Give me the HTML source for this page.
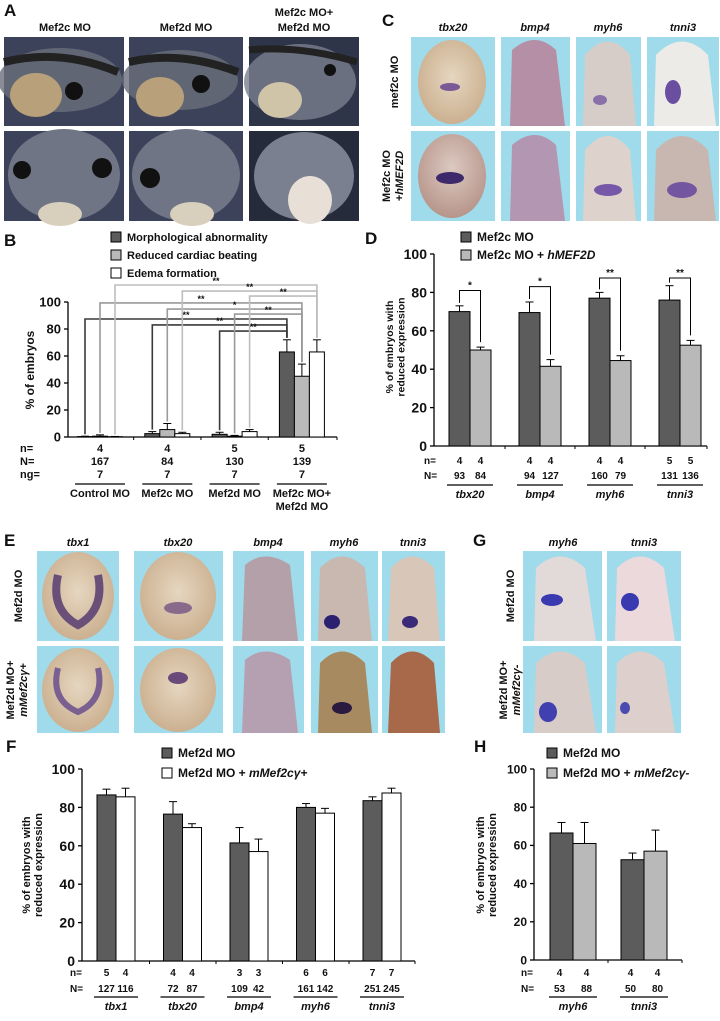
<!DOCTYPE html>
<html><head><meta charset="utf-8"><style>
html,body{margin:0;padding:0;background:#fff}
svg{display:block}
text{font-family:"Liberation Sans",Arial,sans-serif;font-weight:bold;fill:#111}
.it{font-style:italic}
</style></head><body>
<svg id="fig" width="720" height="1021" viewBox="0 0 720 1021" xmlns="http://www.w3.org/2000/svg">
<defs>
<radialGradient id="emb" cx="50%" cy="45%" r="60%"><stop offset="0" stop-color="#e6d6c0"/><stop offset="1" stop-color="#c9ad8c"/></radialGradient>
<radialGradient id="emb2" cx="50%" cy="40%" r="60%"><stop offset="0" stop-color="#dcc9c2"/><stop offset="1" stop-color="#b7958a"/></radialGradient>
</defs>

<g>
<text x="4" y="16" font-size="17">A</text>
<text x="65" y="31" font-size="11" text-anchor="middle">Mef2c MO</text>
<text x="186" y="31" font-size="11" text-anchor="middle">Mef2d MO</text>
<text x="304" y="16" font-size="11" text-anchor="middle">Mef2c MO+</text>
<text x="304" y="31" font-size="11" text-anchor="middle">Mef2d MO</text>
<g><rect x="4" y="37" width="120" height="89" fill="#3b4259"/><ellipse cx="60" cy="80" rx="62" ry="32" fill="#6b6f7c" opacity="0.8"/><ellipse cx="36" cy="95" rx="26" ry="22" fill="#b8a07a"/><path d="M4 62 Q60 48 118 72" stroke="#222" stroke-width="8" fill="none"/><circle cx="74" cy="91" r="9" fill="#111"/></g>
<g><rect x="129" y="37" width="114" height="89" fill="#3b4259"/><ellipse cx="180" cy="80" rx="58" ry="30" fill="#6b6f7c" opacity="0.8"/><ellipse cx="160" cy="97" rx="24" ry="20" fill="#b8a07a"/><path d="M129 62 Q180 50 238 72" stroke="#222" stroke-width="8" fill="none"/><circle cx="201" cy="84" r="9" fill="#111"/></g>
<g><rect x="249" y="37" width="110" height="89" fill="#2f3548"/><ellipse cx="300" cy="82" rx="56" ry="38" fill="#7b8090" opacity="0.8"/><ellipse cx="280" cy="100" rx="22" ry="18" fill="#cfc4a8"/><path d="M249 50 Q300 45 357 62" stroke="#222" stroke-width="7" fill="none"/><circle cx="330" cy="70" r="6" fill="#111"/></g>
<g><rect x="4" y="131" width="120" height="90" fill="#3b4259"/><ellipse cx="64" cy="175" rx="56" ry="46" fill="#6f7585"/><circle cx="22" cy="170" r="9" fill="#111"/><circle cx="102" cy="168" r="10" fill="#111"/><ellipse cx="60" cy="214" rx="22" ry="12" fill="#d8cfbd"/></g>
<g><rect x="129" y="131" width="114" height="90" fill="#3b4259"/><ellipse cx="186" cy="175" rx="54" ry="46" fill="#6f7585"/><circle cx="150" cy="178" r="10" fill="#111"/><ellipse cx="192" cy="214" rx="22" ry="12" fill="#d8cfbd"/></g>
<g><rect x="249" y="131" width="110" height="90" fill="#262b3b"/><ellipse cx="304" cy="176" rx="50" ry="44" fill="#7a8090"/><ellipse cx="310" cy="200" rx="22" ry="24" fill="#e8dfd6"/></g>
</g>

<g>
<text x="382" y="26" font-size="17">C</text>
<text x="453" y="31" font-size="11" class="it" text-anchor="middle">tbx20</text>
<text x="535" y="31" font-size="11" class="it" text-anchor="middle">bmp4</text>
<text x="608" y="31" font-size="11" class="it" text-anchor="middle">myh6</text>
<text x="683" y="31" font-size="11" class="it" text-anchor="middle">tnni3</text>
<text transform="translate(398,82) rotate(-90)" font-size="11" text-anchor="middle">mef2c MO</text>
<text transform="translate(390,176) rotate(-90)" font-size="11" text-anchor="middle">Mef2c MO</text>
<text transform="translate(403,176) rotate(-90)" font-size="11" text-anchor="middle" class="it">+hMEF2D</text>
<g>
<rect x="411" y="37" width="84" height="89" fill="#9fdbea"/><ellipse cx="452" cy="82" rx="34" ry="42" fill="url(#emb)"/><ellipse cx="450" cy="87" rx="10" ry="4" fill="#7a5a95"/>
<rect x="501" y="37" width="69" height="89" fill="#9fdbea"/><path d="M510 126 L512 50 Q535 30 556 50 L565 126 Z" fill="#b58fa6"/>
<rect x="576" y="37" width="65" height="89" fill="#9fdbea"/><path d="M583 126 L585 55 Q608 28 630 55 L636 126 Z" fill="#d6cdc8"/><ellipse cx="600" cy="100" rx="7" ry="5" fill="#8a70a8"/>
<rect x="647" y="37" width="72" height="89" fill="#9fdbea"/><path d="M654 126 L656 55 Q682 28 708 55 L716 126 Z" fill="#ecebe8"/><ellipse cx="673" cy="92" rx="8" ry="12" fill="#6a4fa0"/>
<rect x="411" y="131" width="84" height="90" fill="#9fdbea"/><ellipse cx="452" cy="176" rx="34" ry="42" fill="url(#emb2)"/><ellipse cx="450" cy="178" rx="14" ry="6" fill="#3e2a6a"/>
<rect x="501" y="131" width="69" height="90" fill="#9fdbea"/><path d="M510 221 L512 145 Q535 125 556 145 L565 221 Z" fill="#b296b2"/>
<rect x="576" y="131" width="65" height="90" fill="#9fdbea"/><path d="M583 221 L585 150 Q608 122 630 150 L636 221 Z" fill="#ddd2cc"/><ellipse cx="608" cy="190" rx="14" ry="6" fill="#7658a8"/>
<rect x="647" y="131" width="72" height="90" fill="#9fdbea"/><path d="M654 221 L656 150 Q682 122 708 150 L716 221 Z" fill="#c8b7b0"/><ellipse cx="682" cy="190" rx="15" ry="8" fill="#7256a0"/>
</g>
</g>

<g>
<text x="4" y="546" font-size="17">E</text>
<text x="78" y="546" font-size="11" class="it" text-anchor="middle">tbx1</text>
<text x="178" y="546" font-size="11" class="it" text-anchor="middle">tbx20</text>
<text x="268" y="546" font-size="11" class="it" text-anchor="middle">bmp4</text>
<text x="344" y="546" font-size="11" class="it" text-anchor="middle">myh6</text>
<text x="413" y="546" font-size="11" class="it" text-anchor="middle">tnni3</text>
<text transform="translate(22,596) rotate(-90)" font-size="11" text-anchor="middle">Mef2d MO</text>
<text transform="translate(14,690) rotate(-90)" font-size="11" text-anchor="middle">Mef2d MO+</text>
<text transform="translate(27,690) rotate(-90)" font-size="11" text-anchor="middle" class="it">mMef2cγ+</text>
<g>
<rect x="37" y="551" width="82" height="90" fill="#9fdbea"/><ellipse cx="78" cy="596" rx="36" ry="44" fill="url(#emb)"/><path d="M58 575 Q50 610 78 625 Q105 610 98 575" stroke="#6a5078" stroke-width="8" fill="none"/>
<rect x="134" y="551" width="89" height="90" fill="#9fdbea"/><ellipse cx="178" cy="596" rx="38" ry="44" fill="url(#emb)"/><ellipse cx="178" cy="608" rx="14" ry="6" fill="#8a6a8a"/>
<rect x="233" y="551" width="71" height="90" fill="#9fdbea"/><path d="M242 641 L245 565 Q265 548 290 565 L298 641 Z" fill="#b4a0a8"/>
<rect x="311" y="551" width="67" height="90" fill="#9fdbea"/><path d="M318 641 L320 568 Q342 545 365 568 L372 641 Z" fill="#c8b8b0"/><ellipse cx="332" cy="622" rx="8" ry="7" fill="#2c2070"/>
<rect x="382" y="551" width="63" height="90" fill="#9fdbea"/><path d="M388 641 L391 568 Q412 545 434 568 L440 641 Z" fill="#d8c6b8"/><ellipse cx="410" cy="622" rx="8" ry="6" fill="#3a2a78"/>
<rect x="37" y="646" width="82" height="87" fill="#9fdbea"/><ellipse cx="78" cy="690" rx="36" ry="42" fill="url(#emb)"/><path d="M58 668 Q50 700 78 712 Q105 700 98 668" stroke="#7a6090" stroke-width="6" fill="none"/>
<rect x="134" y="646" width="89" height="87" fill="#9fdbea"/><ellipse cx="178" cy="690" rx="38" ry="42" fill="url(#emb)"/><ellipse cx="178" cy="678" rx="10" ry="6" fill="#6a4a7a"/>
<rect x="233" y="646" width="71" height="87" fill="#9fdbea"/><path d="M242 733 L245 660 Q265 643 290 660 L298 733 Z" fill="#b4a0b0"/>
<rect x="311" y="646" width="67" height="87" fill="#9fdbea"/><path d="M318 733 L320 663 Q342 640 365 663 L372 733 Z" fill="#a88a60"/><ellipse cx="342" cy="708" rx="10" ry="6" fill="#2a1a40"/>
<rect x="382" y="646" width="63" height="87" fill="#9fdbea"/><path d="M388 733 L391 663 Q412 640 434 663 L440 733 Z" fill="#a8684a"/>
</g>
</g>

<g>
<text x="473" y="546" font-size="17">G</text>
<text x="563" y="546" font-size="11" class="it" text-anchor="middle">myh6</text>
<text x="644" y="546" font-size="11" class="it" text-anchor="middle">tnni3</text>
<text transform="translate(514,596) rotate(-90)" font-size="11" text-anchor="middle">Mef2d MO</text>
<text transform="translate(507,690) rotate(-90)" font-size="11" text-anchor="middle">Mef2d MO+</text>
<text transform="translate(520,690) rotate(-90)" font-size="11" text-anchor="middle" class="it">mMef2cγ-</text>
<g>
<rect x="523" y="551" width="79" height="90" fill="#9fdbea"/><path d="M534 641 L536 568 Q560 545 585 568 L596 641 Z" fill="#e2dad8"/><ellipse cx="552" cy="600" rx="11" ry="6" fill="#3a3ab0"/>
<rect x="607" y="551" width="74" height="90" fill="#9fdbea"/><path d="M615 641 L617 568 Q640 545 664 568 L675 641 Z" fill="#ebd9dc"/><ellipse cx="630" cy="602" rx="9" ry="9" fill="#3a3ab0"/>
<rect x="523" y="646" width="79" height="87" fill="#9fdbea"/><path d="M534 733 L536 663 Q560 640 585 663 L596 733 Z" fill="#d8ccc8"/><ellipse cx="548" cy="712" rx="9" ry="10" fill="#4040b0"/>
<rect x="607" y="646" width="74" height="87" fill="#9fdbea"/><path d="M615 733 L617 663 Q640 640 664 663 L675 733 Z" fill="#ddd0cc"/><ellipse cx="625" cy="708" rx="5" ry="6" fill="#4a4ab0"/>
</g>
</g>

<text x="4" y="246" font-size="17">B</text>
<text x="365" y="244" font-size="17">D</text>
<text x="6" y="752" font-size="17">F</text>
<text x="474" y="752" font-size="17">H</text>
</svg>
<script>
// ---------- Panel B data ----------
const bCats = ['Control MO','Mef2c MO','Mef2d MO','Mef2c MO+|Mef2d MO'];
const bMorph = [0.3, 2.5, 2, 63];
const bCardiac = [0.6, 5.5, 0.6, 45];
const bEdema = [0.2, 2.5, 4, 63];
const bMorphErr = [0.6, 4, 3.5, 72];
const bCardiacErr = [1.6, 10, 1.2, 54];
const bEdemaErr = [0.4, 3.5, 5.5, 72];
const bSmallN = ['4','4','5','5'];
const bBigN = ['167','84','130','139'];
const bNg = ['7','7','7','7'];
const bTicks = [0,20,40,60,80,100];
const bLegend = ['Morphological abnormality','Reduced cardiac beating','Edema formation'];
const bSigGroup = [0,1,2,0,1,2,0,1,2];
const bSigSeries = [0,0,0,1,1,1,2,2,2];
const bSigLevel = [87.4,83,78.5,99.3,94.8,91.1,112.6,108.1,104.4];
const bSigLabel = ['**','**','**','**','*','**','**','**','**'];

// ---------- Panel D data ----------
const dGenes = ['tbx20','bmp4','myh6','tnni3'];
const dMef2c = [70, 69.5, 77, 76];
const dRescue = [50, 41.5, 44.5, 52.5];
const dMef2cErr = [73, 75, 80, 83.5];
const dRescueErr = [51.5, 45, 47, 55];
const dSmallN1 = ['4','4','4','5'];
const dSmallN2 = ['4','4','4','5'];
const dBigN1 = ['93','94','160','131'];
const dBigN2 = ['84','127','79','136'];
const dSigLevel = [81, 83, 87.5, 87.5];
const dSigLabel = ['*','*','**','**'];

// ---------- Panel F data ----------
const fGenes = ['tbx1','tbx20','bmp4','myh6','tnni3'];
const fMef2d = [86.5, 76.5, 61.5, 80, 83.5];
const fRescue = [85.5, 69.5, 57, 77, 87.5];
const fMef2dErr = [89.5, 83, 69.5, 82, 85.5];
const fRescueErr = [90, 71.5, 63.5, 79.5, 90];
const fSmallN1 = ['5','4','3','6','7'];
const fSmallN2 = ['4','4','3','6','7'];
const fBigN1 = ['127','72','109','161','251'];
const fBigN2 = ['116','87','42','142','245'];

// ---------- Panel H data ----------
const hGenes = ['myh6','tnni3'];
const hMef2d = [66.5, 52.5];
const hRescue = [61, 57];
const hMef2dErr = [72, 56];
const hRescueErr = [72, 68];
const hSmallN1 = ['4','4'];
const hSmallN2 = ['4','4'];
const hBigN1 = ['53','50'];
const hBigN2 = ['88','80'];

const yTicks = [0,20,40,60,80,100];
const NS = 'http://www.w3.org/2000/svg';
const svg = document.getElementById('fig');
const DARK = '#5c5c5c', MID = '#b9b9b9', WHITE = '#ffffff';

function mk(tag, attrs, parent) {
  const e = document.createElementNS(NS, tag);
  for (const k in attrs) e.setAttribute(k, attrs[k]);
  (parent || svg).appendChild(e);
  return e;
}
function txt(x, y, s, size, parent, anchor, italic) {
  const t = mk('text', {x: x, y: y, 'font-size': size, 'text-anchor': anchor || 'middle'}, parent);
  if (italic) t.setAttribute('font-style', 'italic');
  t.textContent = s;
  return t;
}
function line(x1, y1, x2, y2, color, w, parent) {
  return mk('line', {x1: x1, y1: y1, x2: x2, y2: y2, stroke: color || '#000', 'stroke-width': w || 1}, parent);
}
function drawAxes(g, xL, xR, y, tickSize, ticks, seps) {
  const ax = line(xL, y(0), xL, y(100), '#000', 1.3, g);
  
  
  const bx = line(xL, y(0), xR, y(0), '#000', 1.3, g);
  
  
  ticks.forEach(v => {
    line(xL - 4, y(v), xL, y(v), '#000', 1.3, g);
    const t = txt(xL - 7, y(v) + tickSize * 0.36, String(v), tickSize, g, 'end');
    
    
  });
  seps.forEach(sx => line(sx, y(0), sx, y(0) + 3, '#000', 1, g));
  line(xR, y(0), xR, y(0) + 3, '#000', 1, g);
}
function bar(g, x, w, v, err, fill, y, name) {
  const r = mk('rect', {x: x, y: y(v), width: w, height: y(0) - y(v), fill: fill, stroke: '#000', 'stroke-width': 1}, g);
  
  
  const cx = x + w / 2;
  const e = line(cx, y(v), cx, y(err), '#000', 1, g);
  
  
  line(cx - 4, y(err), cx + 4, y(err), '#000', 1, g);
}
function legend(g, x, ys, labels, fills, size, italicParts) {
  labels.forEach((lab, i) => {
    const r = mk('rect', {x: x, y: ys[i] - 9, width: 10, height: 10, fill: fills[i], stroke: '#000', 'stroke-width': 1}, g);
    
    
    const t = mk('text', {x: x + 16, y: ys[i], 'font-size': size}, g);
    
    
    const parts = italicParts && italicParts[i] ? lab.split('|') : [lab];
    parts.forEach((p, j) => {
      const ts = mk('tspan', {}, t);
      if (j === 1) ts.setAttribute('font-style', 'italic');
      ts.textContent = p;
    });
  });
}
function yTitle(g, x, cy, lines, size) {
  lines.forEach((l, i) => {
    const t = txt(0, 0, l, size, g);
    t.setAttribute('transform', 'translate(' + (x + i * (size + 1)) + ',' + cy + ') rotate(-90)');
    t.setAttribute('font-weight', 'normal');
    
    
  });
}
function counts(g, labelX, yN, yBig, cols, n, N, size) {
  txt(labelX, yN, 'n=', size, g, 'start');
  txt(labelX, yBig, 'N=', size, g, 'start');
  cols.forEach((cx, i) => {
    const a = txt(cx, yN, n[i], size, g);
    
    
    const b = txt(cx, yBig, N[i], size, g);
    
    
  });
}
function geneLabels(g, centers, genes, yLine, halfW, size) {
  genes.forEach((gn, i) => {
    line(centers[i] - halfW, yLine, centers[i] + halfW, yLine, '#000', 1.3, g);
    const t = txt(centers[i], yLine + 13, gn, size, g, 'middle', true);
    
    
  });
}

// ================= Panel B =================
(function () {
  const g = mk('g', {});
  
  
  const y = v => 437 - v * 1.35;
  const xc = i => 100 + i * 67.3;
  const off = [-15, 0, 15];
  const bw = 15;
  legend(g, 111, [241, 259, 277], bLegend, [DARK, MID, WHITE], 11);
  const seps = [0.5, 1.5, 2.5].map(k => xc(0) + k * 67.3);
  drawAxes(g, 68, 337, y, 13, bTicks, seps);
  yTitle(g, 34, 370, ['% of embryos'], 12);
  const series = [bMorph, bCardiac, bEdema];
  const errs = [bMorphErr, bCardiacErr, bEdemaErr];
  const fills = [DARK, MID, WHITE];
  const names = ['bar-morphological', 'bar-cardiac', 'bar-edema'];
  bCats.forEach((c, i) => {
    series.forEach((s, k) => bar(g, xc(i) + off[k] - bw / 2, bw, s[i], errs[k][i], fills[k], y, names[k] + '-' + i));
  });
  const sigColors = ['#3a3a3a', '#9a9a9a', '#bdbdbd'];
  bSigGroup.forEach((gi, j) => {
    const s = bSigSeries[j];
    const x1 = xc(gi) + off[s], x2 = xc(3) + off[s];
    const ly = y(bSigLevel[j]);
    const p = mk('path', {d: 'M' + x1 + ' ' + (y(errs[s][gi]) - 2) + ' V' + ly + ' H' + x2 + ' V' + (y(errs[s][3]) - 2), fill: 'none', stroke: sigColors[s], 'stroke-width': 1.6}, g);
    
    
    const t = txt((x1 + x2) / 2, ly - 1, bSigLabel[j], 9, g);
    
    
  });
  const cols = bCats.map((c, i) => xc(i));
  txt(20, 452, 'n=', 11, g, 'start');
  txt(20, 465, 'N=', 11, g, 'start');
  txt(20, 478, 'ng=', 11, g, 'start');
  cols.forEach((cx, i) => {
    txt(cx, 452, bSmallN[i], 11, g);
    txt(cx, 465, bBigN[i], 11, g);
    txt(cx, 478, bNg[i], 11, g);
    line(cx - 25, 484, cx + 25, 484, '#000', 1.3, g);
    const parts = bCats[i].split('|');
    parts.forEach((p, j) => {
      const t = txt(cx, 497 + j * 13, p, 11, g);
      
      
    });
  });
})();

// ================= Panel D =================
(function () {
  const g = mk('g', {});
  
  
  const y = v => 446 - v * 1.92;
  const xc = i => 470 + i * 70;
  const bw = 21;
  legend(g, 461, [241, 259], ['Mef2c MO', 'Mef2c MO + |hMEF2D'], [DARK, MID], 12, [false, true]);
  drawAxes(g, 434, 707, y, 14, yTicks, [505, 575, 645]);
  yTitle(g, 393, 347, ['% of embryos with', 'reduced expression'], 10.5);
  dGenes.forEach((gn, i) => {
    bar(g, xc(i) - bw, bw, dMef2c[i], dMef2cErr[i], DARK, y, 'bar-mef2c-' + gn);
    bar(g, xc(i), bw, dRescue[i], dRescueErr[i], MID, y, 'bar-rescue-' + gn);
    const x1 = xc(i) - bw / 2, x2 = xc(i) + bw / 2, ly = y(dSigLevel[i]);
    const p = mk('path', {d: 'M' + x1 + ' ' + (y(dMef2cErr[i]) - 3) + ' V' + ly + ' H' + x2 + ' V' + (y(dRescueErr[i]) - 5), fill: 'none', stroke: '#000', 'stroke-width': 1}, g);
    
    
    const t = txt(xc(i), ly - 2, dSigLabel[i], 10, g);
    
    
  });
  const cols = [], nn = [], NN = [];
  dGenes.forEach((gn, i) => { cols.push(xc(i) - bw / 2, xc(i) + bw / 2); nn.push(dSmallN1[i], dSmallN2[i]); NN.push(dBigN1[i], dBigN2[i]); });
  counts(g, 424, 464, 479, cols, nn, NN, 10);
  geneLabels(g, dGenes.map((_, i) => xc(i)), dGenes, 485, 23, 11);
})();

// ================= Panel F =================
(function () {
  const g = mk('g', {});
  
  
  const y = v => 961 - v * 1.92;
  const xc = i => 116 + i * 66.5;
  const bw = 19;
  legend(g, 162, [757, 777], ['Mef2d MO', 'Mef2d MO + |mMef2cγ+'], [DARK, WHITE], 12, [false, true]);
  drawAxes(g, 82, 415, y, 14, yTicks, [149.5, 216, 282.5, 349]);
  yTitle(g, 30, 865, ['% of embryos with', 'reduced expression'], 11);
  fGenes.forEach((gn, i) => {
    bar(g, xc(i) - bw, bw, fMef2d[i], fMef2dErr[i], DARK, y, 'bar-mef2d-' + gn);
    bar(g, xc(i), bw, fRescue[i], fRescueErr[i], WHITE, y, 'bar-rescue-' + gn);
  });
  const cols = [], nn = [], NN = [];
  fGenes.forEach((gn, i) => { cols.push(xc(i) - bw / 2, xc(i) + bw / 2); nn.push(fSmallN1[i], fSmallN2[i]); NN.push(fBigN1[i], fBigN2[i]); });
  counts(g, 70, 976, 992, cols, nn, NN, 10);
  geneLabels(g, fGenes.map((_, i) => xc(i)), fGenes, 997, 22, 11);
})();

// ================= Panel H =================
(function () {
  const g = mk('g', {});
  
  
  const y = v => 960 - v * 1.91;
  const xc = i => 573 + i * 71;
  const bw = 23;
  legend(g, 547, [757, 777], ['Mef2d MO', 'Mef2d MO + |mMef2cγ-'], [DARK, MID], 12, [false, true]);
  drawAxes(g, 534, 682, y, 12, yTicks, [608]);
  yTitle(g, 484, 865, ['% of embryos with', 'reduced expression'], 11);
  hGenes.forEach((gn, i) => {
    bar(g, xc(i) - bw, bw, hMef2d[i], hMef2dErr[i], DARK, y, 'bar-mef2d-' + gn);
    bar(g, xc(i), bw, hRescue[i], hRescueErr[i], MID, y, 'bar-rescue-' + gn);
  });
  const cols = [], nn = [], NN = [];
  hGenes.forEach((gn, i) => { cols.push(xc(i) - bw / 2 - 2, xc(i) + bw / 2 + 2); nn.push(hSmallN1[i], hSmallN2[i]); NN.push(hBigN1[i], hBigN2[i]); });
  counts(g, 521, 976, 992, cols, nn, NN, 10);
  geneLabels(g, hGenes.map((_, i) => xc(i)), hGenes, 997, 24, 11);
})();
</script>
</body></html>
